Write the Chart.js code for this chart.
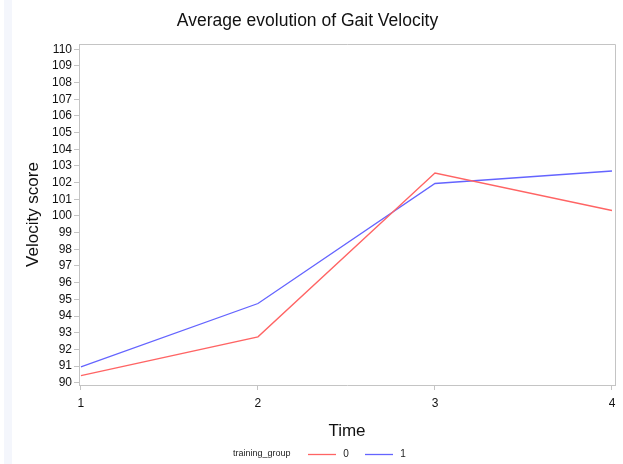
<!DOCTYPE html>
<html>
<head>
<meta charset="utf-8">
<script src="https://cdn.jsdelivr.net/npm/chart.js@4"></script>
<style>
  html, body { margin: 0; padding: 0; background: #fff; }
  #wrap { width: 623px; height: 464px; }
</style>
</head>
<body>
<div id="wrap"><canvas id="gaitChart" width="623" height="464"></canvas></div>
<script>
// data
const times = [1, 2, 3, 4];
const group0 = [90.42, 92.75, 102.58, 100.33];
const group1 = [90.95, 94.75, 101.95, 102.7];
const yTicks = [90, 91, 92, 93, 94, 95, 96, 97, 98, 99, 100, 101, 102, 103, 104, 105, 106, 107, 108, 109, 110];
const legendTitle = "training_group";
const groupLabels = ["0", "1"];

const FONT = "'Liberation Sans', Arial, sans-serif";
const AXIS = "#c4c4c4";

// white page, faint strip on the left, frame around plot
const framePlugin = {
  id: "frame",
  beforeDraw(c) {
    const g = c.ctx;
    g.save();
    g.fillStyle = "#fff";
    g.fillRect(0, 0, c.width, c.height);
    g.fillStyle = "#f4f6fc";
    g.fillRect(4, 0, 8, c.height);
    g.restore();
  },
  afterDraw(c) {
    const a = c.chartArea, g = c.ctx;
    g.save();
    g.strokeStyle = AXIS;
    g.lineWidth = 1;
    g.beginPath();
    g.moveTo(a.left, a.top + 0.5);
    g.lineTo(a.right + 0.5, a.top + 0.5);
    g.lineTo(a.right + 0.5, a.bottom);
    g.stroke();
    g.restore();
  }
};

// legend drawn as in the picture: title on the left, then line + label per group
const legendPlugin = {
  id: "rowLegend",
  afterDraw(c) {
    const g = c.ctx;
    const y = 454;
    g.save();
    g.font = "9px " + FONT;
    g.fillStyle = "#222";
    g.textBaseline = "middle";
    g.textAlign = "left";
    g.fillText(legendTitle, 233, y);
    let x = 308;
    c.data.datasets.forEach(ds => {
      g.strokeStyle = ds.borderColor;
      g.lineWidth = 1.3;
      g.beginPath();
      g.moveTo(x, y + 0.5);
      g.lineTo(x + 28, y + 0.5);
      g.stroke();
      g.fillStyle = "#222";
      g.font = "10px " + FONT;
      g.textAlign = "center";
      g.fillText(ds.label, x + 38, y);
      x += 57;
    });
    g.restore();
  }
};

new Chart(document.getElementById("gaitChart"), {
  type: "line",
  data: {
    datasets: [
      {
        label: groupLabels[0],
        data: times.map((t, i) => ({ x: t, y: group0[i] })),
        borderColor: "#ff6464",
        borderWidth: 1.3,
        pointRadius: 0,
        tension: 0
      },
      {
        label: groupLabels[1],
        data: times.map((t, i) => ({ x: t, y: group1[i] })),
        borderColor: "#6464ff",
        borderWidth: 1.3,
        pointRadius: 0,
        tension: 0
      }
    ]
  },
  options: {
    responsive: false,
    animation: false,
    layout: { padding: { top: 0, right: 8, bottom: 0, left: 0 } },
    plugins: {
      legend: { display: false },
      tooltip: { enabled: false },
      title: {
        display: true,
        text: "Average evolution of Gait Velocity",
        color: "#111",
        font: { family: FONT, size: 17.5, weight: "normal" },
        padding: { top: 11, bottom: 12 }
      }
    },
    scales: {
      x: {
        type: "linear",
        min: 0.989,
        max: 4.017,
        afterBuildTicks: s => { s.ticks = times.map(v => ({ value: v })); },
        afterFit: s => { s.height = 79; },
        ticks: { color: "#111", font: { family: FONT, size: 12 }, padding: 6, autoSkip: false },
        grid: { drawOnChartArea: false, tickLength: 5, color: AXIS },
        border: { color: AXIS },
        title: {
          display: true,
          text: "Time",
          color: "#111",
          font: { family: FONT, size: 17 },
          padding: { top: 0, bottom: 22 }
        }
      },
      y: {
        type: "linear",
        min: 89.86,
        max: 110.32,
        afterBuildTicks: s => { s.ticks = yTicks.map(v => ({ value: v })); },
        afterFit: s => { s.width = 79; },
        ticks: { color: "#111", font: { family: FONT, size: 12 }, padding: 2, autoSkip: false },
        grid: { drawOnChartArea: false, tickLength: 5, color: AXIS },
        border: { color: AXIS },
        title: {
          display: true,
          text: "Velocity score",
          color: "#111",
          font: { family: FONT, size: 17 },
          padding: { top: 23, bottom: 0 }
        }
      }
    }
  },
  plugins: [framePlugin, legendPlugin]
});
</script>
</body>
</html>
